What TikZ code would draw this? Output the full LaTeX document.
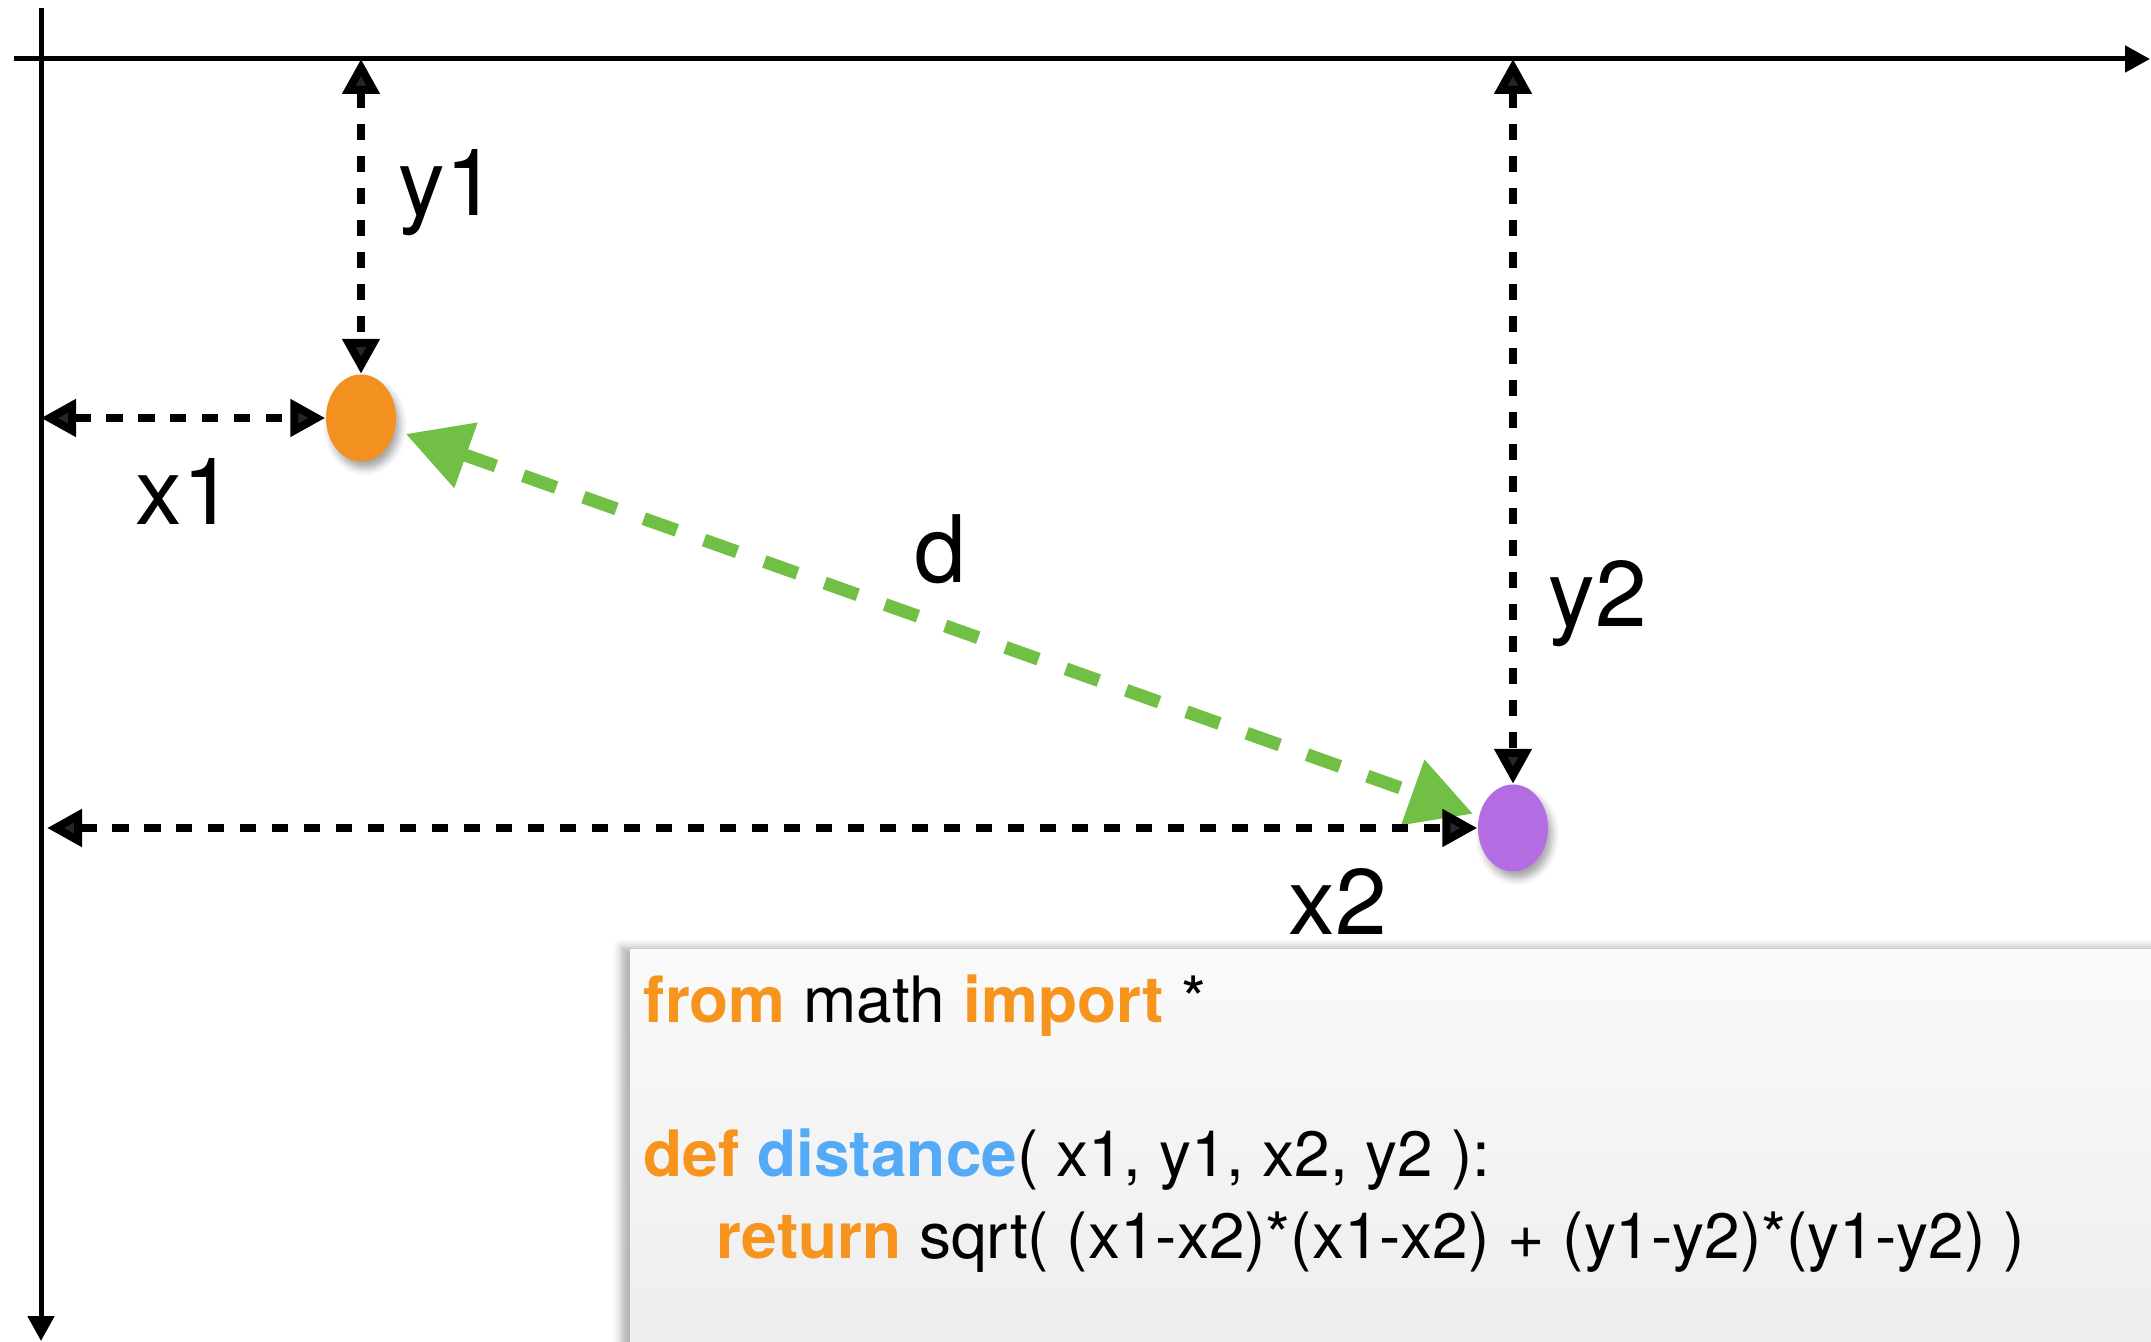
\documentclass[tikz,border=0pt]{standalone}
\usepackage{fontspec}
\setmainfont{TeX Gyre Heros}
\usetikzlibrary{arrows.meta,shapes.geometric,shadows.blur}

\definecolor{dotorange}{HTML}{F29120}
\definecolor{dotpurple}{HTML}{B36CE1}
\definecolor{distgreen}{HTML}{71BF44}
\definecolor{kworange}{HTML}{F7941E}
\definecolor{fnblue}{HTML}{55AAF7}
\newcommand\kwd[1]{\textcolor{kworange}{\bfseries #1}}
\newcommand\fnname[1]{\textcolor{fnblue}{\bfseries #1}}

\begin{document}
\begin{tikzpicture}[x=0.1mm,y=-0.1mm,
  axis/.style={line width=0.5mm,-{Triangle[length=2.5mm,width=2.6mm]}},
  measure/.style={line width=0.8mm,dash pattern=on 1.65mm off 1.55mm,
    {Triangle[length=3.5mm,width=3.6mm]}-{Triangle[length=3.5mm,width=3.6mm]}},
  distline/.style={distgreen,line width=1.3mm,dash pattern=on 3.5mm off 2.9mm,
    {Triangle[length=6.4mm,width=6.6mm]}-{Triangle[length=6.4mm,width=6.6mm]}},
  dot/.style={ellipse,minimum width=7mm,minimum height=8.7mm,inner sep=0pt,
    blur shadow={shadow xshift=0.4mm,shadow yshift=-0.7mm,
      shadow blur radius=0.7mm,shadow opacity=35}},
  lbl/.style={anchor=base west,inner sep=0pt,font=\fontsize{26.5}{30}\selectfont},
  codeline/.style={anchor=base west,inner sep=0pt,font=\fontsize{18.2}{22}\selectfont}]
  \useasboundingbox (0,0) rectangle (2151,1342);

  % axes
  \coordinate (origin) at (41,59);
  \draw[axis] (14,59) -- (2150,59);
  \draw[axis] (41,8) -- (41,1341);

  % code panel
  \path[top color=white!98!black,bottom color=black!7!white,
    blur shadow={shadow xshift=-0.9mm,shadow yshift=0.3mm,
      shadow blur radius=0.8mm,shadow opacity=30}]
    (630,950) rectangle (2170,1360);
  \node[codeline] (line1) at (643,1023) {\kwd{from} math \kwd{import} *};
  \node[codeline] (line2) at (643,1177) {\kwd{def} \fnname{distance}( x1, y1, x2, y2 ):};
  \node[codeline] (line3) at (716,1258) {\kwd{return} sqrt( (x1-x2)*(x1-x2) + (y1-y2)*(y1-y2) )};

  % points
  \node[dot,fill=dotorange] (p1) at (361,418) {};
  \node[dot,fill=dotpurple] (p2) at (1513,828) {};

  % distance between the points
  \draw[distline,shorten <=1.1mm,shorten >=0.6mm] (p1) -- (p2);

  % coordinates of the points
  \coordinate (y1top) at (p1.north |- origin);
  \coordinate (x1left) at (origin |- p1.west);
  \coordinate (y2top) at (p2.north |- origin);
  \coordinate (x2left) at (47,0 |- p2.west);
  \draw[measure] (y1top) -- (p1.north);
  \draw[measure] (x1left) -- (p1.west);
  \draw[measure] (y2top) -- (p2.north);
  \draw[measure] (x2left) -- (p2.west);

  \node[lbl] (y1) at (398,216) {y1};
  \node[lbl] (x1) at (135,525) {x1};
  \node[lbl] (d) at (914,583) {d};
  \node[lbl] (y2) at (1548,627) {y2};
  \node[lbl] (x2) at (1288,935) {x2};
\end{tikzpicture}
\end{document}
